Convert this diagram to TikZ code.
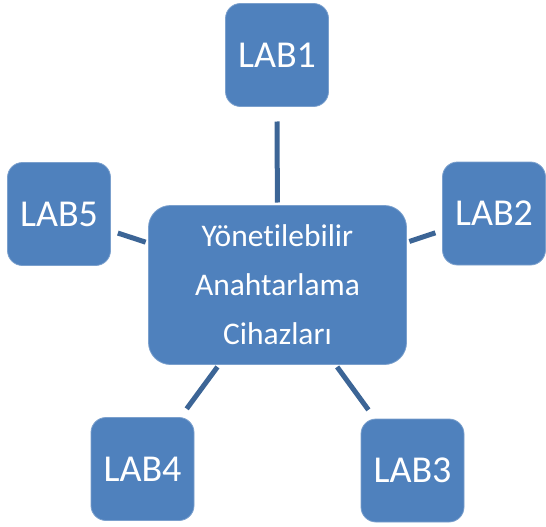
\documentclass[tikz,border=0pt]{standalone}
\usepackage{fontspec}
\setmainfont[Ligatures={NoCommon}]{Carlito}
\definecolor{boxblue}{RGB}{79,129,189}
\definecolor{linkblue}{RGB}{60,101,150}
\tikzset{
  labbox/.style={rectangle, rounded corners=15pt, fill=boxblue, draw=boxblue!75!white,
    line width=0.8pt, outer sep=0pt, minimum width=103pt, minimum height=103pt,
    text=white, font=\fontsize{38}{40}\selectfont},
  hubbox/.style={rectangle, rounded corners=22pt, fill=boxblue, draw=boxblue!75!white,
    line width=0.8pt, outer sep=0pt, minimum width=258pt, minimum height=159pt,
    text=white, align=center, font=\fontsize{31.5}{49}\selectfont},
  link/.style={linkblue, line width=5pt, shorten <=3pt}
}
\begin{document}
\begin{tikzpicture}[x=1pt,y=-1pt]
  \useasboundingbox (0,0) rectangle (546,527);
  \node[hubbox] (hub) at (277.5,285) {Yönetilebilir\\Anahtarlama\\Cihazları}; % Center
  \foreach \Name/\Point in {1/{(277,55)},2/{(494,213.5)},3/{(412.5,470.5)},4/{(142.5,469)},5/{(59,214)}} % Labs
    \node[labbox] (lab\Name) at \Point {LAB\Name};
  \foreach \Name/\Gap in {1/15pt,2/7.5pt,3/11.3pt,4/10.8pt,5/7.7pt} % Links
    \draw[link, shorten >=\Gap] (hub) -- (lab\Name);
\end{tikzpicture}
\end{document}
